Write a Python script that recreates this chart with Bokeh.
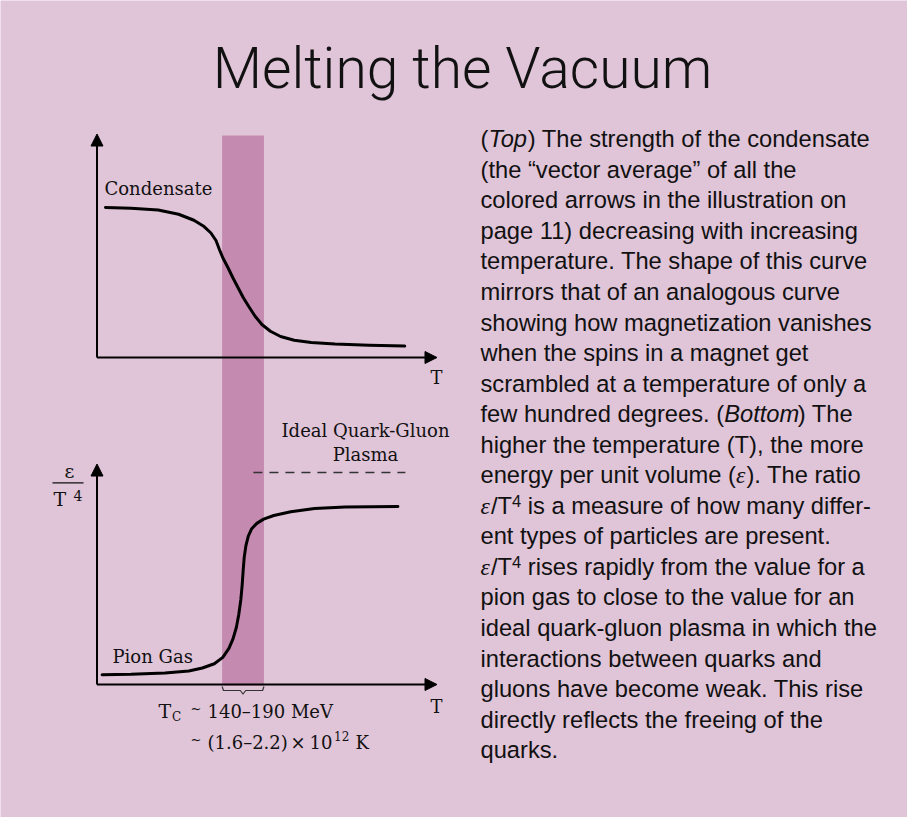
from bokeh.plotting import figure
from bokeh.models import Range1d, Arrow, NormalHead
from bokeh.core.properties import value
from bokeh.embed import file_html
from bokeh.resources import INLINE

# ---------------- data ----------------
title = "Melting the Vacuum"

# top panel: condensate strength vs temperature (arbitrary units, T axis 0..10)
cond_T = [0.25, 1.0, 1.8, 2.4, 2.85, 3.15, 3.35, 3.5, 3.6, 3.7, 3.85, 4.0, 4.15,
          4.3, 4.45, 4.65, 4.85, 5.1, 5.4, 5.8, 6.3, 7.0, 8.0, 9.05]
cond_v = [1.000, 0.995, 0.983, 0.955, 0.915, 0.873, 0.830, 0.780, 0.720, 0.665,
          0.600, 0.530, 0.465, 0.400, 0.345, 0.275, 0.220, 0.175, 0.140, 0.115,
          0.100, 0.090, 0.082, 0.076]

# bottom panel: epsilon / T^4 (ideal plasma level = 1)
eps_T = [0.15, 1.0, 2.0, 2.7, 3.1, 3.45, 3.7, 3.88, 4.0, 4.1, 4.17, 4.23, 4.27,
         4.30, 4.33, 4.38, 4.45, 4.55, 4.70, 4.90, 5.2, 5.7, 6.4, 7.3, 8.85]
eps_v = [0.046, 0.048, 0.054, 0.064, 0.078, 0.098, 0.128, 0.170, 0.215, 0.270,
         0.330, 0.400, 0.470, 0.540, 0.600, 0.655, 0.700, 0.735, 0.760, 0.780,
         0.797, 0.815, 0.830, 0.837, 0.840]

tc_range = [3.68, 4.91]        # critical temperature band (T units)
ideal_level = 1.0
ideal_T = [4.6, 9.07]
t_axis_max = 10.0
cond_axis_max = 1.49
eps_axis_max = 1.04

labels_serif = ["Condensate", "Pion Gas", "Ideal Quark-Gluon", "Plasma", "T", "T"]
tc_line1 = "140–190 MeV"
tc_line2 = ["(1.6–2.2)", "×", "10"]
tc_exp = "12"
tc_unit = "K"

paragraph = [
    [("(", "r"), ("Top", "i"), (") The strength of the condensate", "r")],
    [("(the “vector average” of all the", "r")],
    [("colored arrows in the illustration on", "r")],
    [("page 11) decreasing with increasing", "r")],
    [("temperature. The shape of this curve", "r")],
    [("mirrors that of an analogous curve", "r")],
    [("showing how magnetization vanishes", "r")],
    [("when the spins in a magnet get", "r")],
    [("scrambled at a temperature of only a", "r")],
    [("few hundred degrees. (", "r"), ("Bottom", "i"), (") The", "r")],
    [("higher the temperature (T), the more", "r")],
    [("energy per unit volume (", "r"), ("ε", "e"), ("). The ratio", "r")],
    [("ε", "e"), ("/T", "r"), ("4", "s"), (" is a measure of how many differ-", "r")],
    [("ent types of particles are present.", "r")],
    [("ε", "e"), ("/T", "r"), ("4", "s"), (" rises rapidly from the value for a", "r")],
    [("pion gas to close to the value for an", "r")],
    [("ideal quark-gluon plasma in which the", "r")],
    [("interactions between quarks and", "r")],
    [("gluons have become weak. This rise", "r")],
    [("directly reflects the freeing of the", "r")],
    [("quarks.", "r")],
]

# ---------------- layout / style ----------------
W, H = 907, 817
BG = "#e0c4d8"
BAND = "#c58ab0"
INK = "#111111"
SERIF = "DejaVu Serif"
SANS = "Liberation Sans"
TITLE_FONT = "'Roboto Light', 'Liberation Sans'"
KB = 0.35   # baseline correction (fraction of font size)

OX, PXT = 96.5, 34.0          # T axis origin (px) and px per T unit
TOP0, PXV_TOP = 357.0, 150.0  # top panel baseline px and px per unit
BOT0, PXV_BOT = 684.0, 212.0  # bottom panel baseline px and px per unit

p = figure(width=W, height=H, x_range=Range1d(0, W), y_range=Range1d(H, 0),
           output_backend="svg", toolbar_location=None,
           x_axis_type=None, y_axis_type=None, min_border=0,
           background_fill_color=BG, border_fill_color=BG,
           outline_line_color=None)
p.extra_x_ranges = {"T": Range1d(-OX / PXT, (W - OX) / PXT)}
p.extra_y_ranges = {
    "cond": Range1d(-(H - TOP0) / PXV_TOP, TOP0 / PXV_TOP),
    "eps": Range1d(-(H - BOT0) / PXV_BOT, BOT0 / PXV_BOT),
}


def txt(xs, ys, texts, font, fs, align="left", style="normal"):
    p.text(x=xs, y=[y - KB * fs for y in ys], text=texts, text_font=value(font),
           text_font_size=f"{fs}px", text_font_style=style, text_align=align,
           text_baseline="alphabetic", text_color=INK)


# band
p.quad(left=[tc_range[0]], right=[tc_range[1]], top=[135], bottom=[685],
       x_range_name="T", fill_color=BAND, line_color=None)

# dashed ideal plasma level
p.line(ideal_T, [ideal_level] * len(ideal_T), x_range_name="T", y_range_name="eps",
       line_dash="9 7", line_width=1.4, line_color="#333333")

# curves
p.line(cond_T, cond_v, x_range_name="T", y_range_name="cond",
       line_width=3, line_color="black", line_join="round", line_cap="round")
p.line(eps_T, eps_v, x_range_name="T", y_range_name="eps",
       line_width=3, line_color="black", line_join="round", line_cap="round")


# axes with arrow heads
def axis_arrow(x0, y0, x1, y1, yname):
    p.add_layout(Arrow(end=NormalHead(size=12, fill_color="black", line_color="black", line_width=1),
                       x_start=x0, y_start=y0, x_end=x1, y_end=y1,
                       x_range_name="T", y_range_name=yname,
                       line_width=2, line_color="black"))


axis_arrow(0, 0, 0, cond_axis_max, "cond")
axis_arrow(0, 0, t_axis_max, 0, "cond")
axis_arrow(0, 0, 0, eps_axis_max, "eps")
axis_arrow(0, 0, t_axis_max, 0, "eps")

# brace under the band
lo, hi = tc_range
mid = 0.5 * (lo + hi)
p.line([lo, lo + 0.04, mid - 0.08, mid, mid + 0.08, hi - 0.04, hi],
       [686, 690, 690, 693.5, 690, 690, 686], x_range_name="T",
       line_width=1.2, line_color="#333333", line_join="round")

# title
txt([462], [88], [title], TITLE_FONT, 57, align="center")

# serif chart labels
txt([104, 112], [194, 662], labels_serif[:2], SERIF, 18)
txt([365, 365, 436, 436], [436, 460, 383, 712], labels_serif[2:], SERIF, 18, align="center")

# epsilon / T^4 label
txt([69], [477], ["ε"], SERIF, 19, align="center")
p.segment(x0=[52], y0=[482.3], x1=[83], y1=[482.3], line_width=1.2, line_color=INK)
txt([53], [505], ["T"], SERIF, 19)
txt([73], [500], ["4"], SERIF, 14)

# Tc annotation
txt([158], [717], ["T"], SERIF, 19)
txt([171.5], [721], ["C"], SERIF, 12)
txt([190, 190], [713, 744], ["~", "~"], SERIF, 13)
txt([207], [717], [tc_line1], SERIF, 18)
txt([207, 290, 309], [748, 748, 748], tc_line2, SERIF, 18)
txt([333.5], [740], [tc_exp], SERIF, 12)
txt([355], [748], [tc_unit], SERIF, 18)

# paragraph (Liberation Sans = Arial metrics)
AW = {' ': 278, '(': 333, ')': 333, '.': 278, ',': 278, '/': 278, '-': 333,
      'T': 611, 'B': 667, 'a': 556, 'b': 556, 'c': 500, 'd': 556, 'e': 556,
      'f': 278, 'g': 556, 'h': 556, 'i': 222, 'j': 222, 'k': 500, 'l': 222,
      'm': 833, 'n': 556, 'o': 556, 'p': 556, 'q': 556, 'r': 333, 's': 500,
      't': 278, 'u': 556, 'v': 500, 'w': 722, 'x': 500, 'y': 500, 'z': 500}
FS, SUP_FS = 23.7, 16.5
X_TXT, Y_TXT, LH = 480.0, 147.0, 30.55

seg = {k: dict(x=[], y=[], text=[]) for k in "rise"}
for i, line in enumerate(paragraph):
    x = X_TXT
    yb = Y_TXT + i * LH
    for s, st in line:
        lead = len(s) - len(s.lstrip(" "))
        if lead:
            x += lead * AW[" "] / 1000.0 * FS
            s = s.lstrip(" ")
        if st == "s":
            seg[st]["x"].append(x); seg[st]["y"].append(yb - 7.5); seg[st]["text"].append(s)
            x += 0.556 * SUP_FS * len(s)
        else:
            seg[st]["x"].append(x); seg[st]["y"].append(yb); seg[st]["text"].append(s)
            if st == "e":
                x += 0.44 * FS
            elif st == "i":
                x += sum(AW.get(c, 556) for c in s) / 1000.0 * FS - 1.5
            else:
                x += sum(AW.get(c, 556) for c in s) / 1000.0 * FS

txt(seg["r"]["x"], seg["r"]["y"], seg["r"]["text"], SANS, FS)
txt(seg["i"]["x"], seg["i"]["y"], seg["i"]["text"], SANS, FS, style="italic")
txt(seg["e"]["x"], seg["e"]["y"], seg["e"]["text"], "Liberation Serif", FS, style="italic")
txt(seg["s"]["x"], seg["s"]["y"], seg["s"]["text"], SANS, SUP_FS)

open("out.html", "w").write(file_html(p, INLINE))
